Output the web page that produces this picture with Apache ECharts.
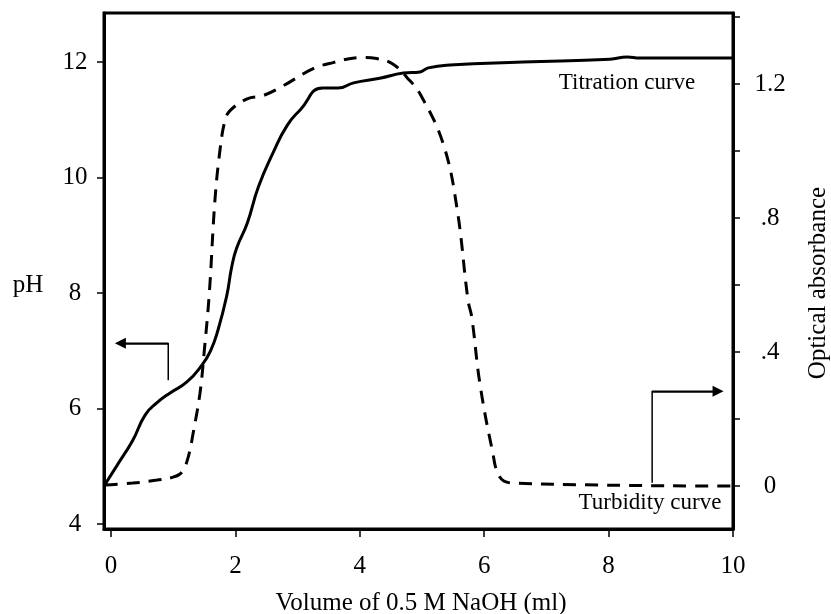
<!DOCTYPE html>
<html>
<head>
<meta charset="utf-8">
<script src="https://cdn.jsdelivr.net/npm/echarts@6/dist/echarts.min.js"></script>
<style>
  html, body { margin: 0; padding: 0; background: #fff; }
  #chart { width: 831px; height: 614px; }
</style>
</head>
<body>
<div id="chart"></div>
<script>
// titration curve (pH, left axis)
var titrX  = [-0.1, 0.1, 0.35, 0.55, 0.74, 0.95, 1.22, 1.46, 1.6, 1.72, 1.86, 1.94, 2.02, 2.19, 2.37, 2.61, 2.83, 3.04, 3.4, 3.65, 3.9, 4.32, 4.7, 4.97, 5.1, 5.45, 6.62, 8.02, 8.3, 8.5, 10];
var titrPH = [4.68, 5.02, 5.45, 5.89, 6.1, 6.27, 6.46, 6.75, 7.0, 7.36, 7.95, 8.45, 8.78, 9.21, 9.84, 10.44, 10.9, 11.17, 11.55, 11.55, 11.64, 11.72, 11.81, 11.83, 11.9, 11.95, 12.0, 12.05, 12.09, 12.07, 12.07];

// turbidity curve (optical absorbance, right axis)
var turbX   = [-0.1, 0.35, 0.74, 1.0, 1.14, 1.24, 1.32, 1.43, 1.5, 1.58, 1.67, 1.75, 1.83, 1.91, 2.19, 2.44, 2.77, 3.25, 3.57, 4.0, 4.27, 4.53, 4.76, 4.97, 5.34, 5.56, 5.74, 5.8, 5.93, 6.13, 6.25, 6.46, 10];
var turbAbs = [0.003, 0.009, 0.018, 0.027, 0.042, 0.086, 0.158, 0.277, 0.405, 0.575, 0.852, 1.0, 1.09, 1.12, 1.156, 1.165, 1.195, 1.246, 1.264, 1.279, 1.276, 1.26, 1.219, 1.17, 1.022, 0.832, 0.554, 0.504, 0.307, 0.107, 0.027, 0.009, 0.0];

// ticks
var xTicks = [0, 2, 4, 6, 8, 10];
var phTicks = [4, 6, 8, 10, 12];
var absTicks = [0, 0.2, 0.4, 0.6, 0.8, 1.0, 1.2, 1.4];
var absLabels = [0, 0.4, 0.8, 1.2];

// arrow annotations: shaft corner points, last segment carries the head
var phArrow  = [[0.92, 6.49], [0.92, 7.13], [0.15, 7.13]];
var absArrow = [[8.7, 0.01], [8.7, 0.283], [9.76, 0.283]];

var FONT = "'Liberation Serif', 'Times New Roman', serif";

function pairs(xs, ys) {
  var out = [];
  for (var i = 0; i < xs.length; i++) out.push([xs[i], ys[i]]);
  return out;
}

function shaft(pts, yIdx) {
  return {
    type: 'line', yAxisIndex: yIdx, data: pts,
    showSymbol: false, silent: true,
    lineStyle: { color: '#000', width: 1.5 }, z: 4
  };
}

function head(pts, yIdx) {
  var n = pts.length;
  return {
    type: 'lines', coordinateSystem: 'cartesian2d',
    xAxisIndex: 0, yAxisIndex: yIdx,
    symbol: ['none', 'triangle'], symbolSize: 11,
    lineStyle: { color: '#000', width: 1.5, opacity: 1, curveness: 0 },
    data: [{ coords: [pts[n - 2], pts[n - 1]] }], z: 4
  };
}

var myChart = echarts.init(document.getElementById('chart'));

var option = {
  animation: false,
  backgroundColor: '#fff',
  grid: {
    left: 104, right: 98, top: 13, bottom: 85,
    show: true, borderColor: '#000', borderWidth: 3
  },
  xAxis: {
    type: 'value',
    min: -0.113, max: 10,
    axisLine: { show: true, onZero: false, lineStyle: { color: '#000', width: 3 } },
    axisTick: { show: true, inside: false, length: 8, customValues: xTicks, lineStyle: { color: '#000', width: 1.5 } },
    axisLabel: { customValues: xTicks, color: '#000', fontFamily: FONT, fontSize: 25, margin: 37, verticalAlign: 'middle' },
    splitLine: { show: false }
  },
  yAxis: [
    {
      type: 'value', position: 'left',
      min: 3.913, max: 12.85,
      axisLine: { show: true, onZero: false, lineStyle: { color: '#000', width: 3 } },
      axisTick: { show: true, inside: false, length: 7, customValues: phTicks, lineStyle: { color: '#000', width: 1.5 } },
      axisLabel: { customValues: phTicks, color: '#000', fontFamily: FONT, fontSize: 25, margin: 29, align: 'center' },
      splitLine: { show: false }
    },
    {
      type: 'value', position: 'right',
      min: -0.128, max: 1.412,
      axisLine: { show: true, onZero: false, lineStyle: { color: '#000', width: 3 } },
      axisTick: { show: true, inside: false, length: 7, customValues: absTicks, lineStyle: { color: '#000', width: 1.5 } },
      axisLabel: {
        customValues: absLabels, color: '#000', fontFamily: FONT, fontSize: 25, margin: 37, align: 'center',
        formatter: function (v) { return v === 0 ? '0' : String(+v.toFixed(1)).replace(/^0/, ''); }
      },
      splitLine: { show: false }
    }
  ],
  series: [
    {
      name: 'Titration curve',
      type: 'line',
      yAxisIndex: 0,
      data: pairs(titrX, titrPH),
      showSymbol: false,
      smooth: 0.5,
      lineStyle: { color: '#000', width: 3 },
      z: 3
    },
    {
      name: 'Turbidity curve',
      type: 'line',
      yAxisIndex: 1,
      data: pairs(turbX, turbAbs),
      showSymbol: false,
      smooth: 0.4,
      lineStyle: { color: '#000', width: 3, type: [13, 9] },
      z: 3
    },
    shaft(phArrow, 0),
    head(phArrow, 0),
    shaft(absArrow, 1),
    head(absArrow, 1)
  ],
  graphic: [
    { type: 'text', x: 28, y: 285, style: { text: 'pH', font: '25px ' + FONT, fill: '#000', align: 'center', verticalAlign: 'middle' } },
    { type: 'text', x: 818, y: 283, rotation: Math.PI / 2, style: { text: 'Optical absorbance', font: '25px ' + FONT, fill: '#000', align: 'center', verticalAlign: 'middle' } },
    { type: 'text', x: 421, y: 603, style: { text: 'Volume of 0.5 M NaOH (ml)', font: '25px ' + FONT, fill: '#000', align: 'center', verticalAlign: 'middle' } },
    { type: 'text', x: 627, y: 83, style: { text: 'Titration curve', font: '23px ' + FONT, fill: '#000', align: 'center', verticalAlign: 'middle' } },
    { type: 'text', x: 650, y: 503, style: { text: 'Turbidity curve', font: '23px ' + FONT, fill: '#000', align: 'center', verticalAlign: 'middle' } }
  ]
};

myChart.setOption(option);
</script>
</body>
</html>
